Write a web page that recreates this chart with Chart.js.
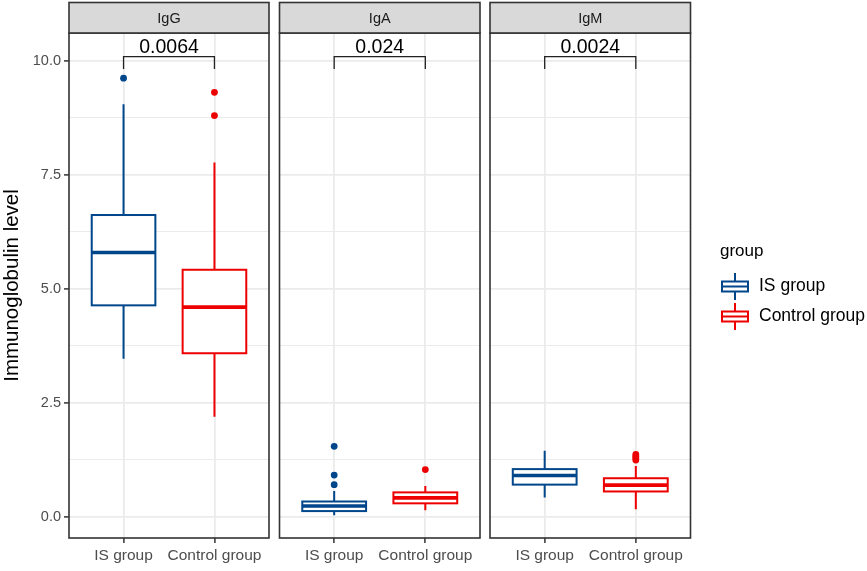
<!DOCTYPE html>
<html>
<head>
<meta charset="utf-8">
<script src="https://cdn.jsdelivr.net/npm/chart.js@4.4.1/dist/chart.umd.min.js"></script>
<style>
  html, body { margin: 0; padding: 0; background: #fff; }
  #wrap { position: relative; width: 867px; height: 571px; overflow: hidden; }
  #wrap canvas { position: absolute; left: 0; top: 0; }
</style>
</head>
<body>
<div id="wrap">
  <canvas id="p0" width="867" height="571"></canvas>
  <canvas id="p1" width="867" height="571"></canvas>
  <canvas id="p2" width="867" height="571"></canvas>
</div>
<script>
// ---- data ----
const panelNames = ["IgG", "IgA", "IgM"];
const groupNames = ["IS group", "Control group"];
const pValues = ["0.0064", "0.024", "0.0024"];
const yTickValues = [0, 1.25, 2.5, 3.75, 5, 6.25, 7.5, 8.75, 10];

// IS group: whisker ends, quartiles, median per panel
const isLower = [3.47, 0.04, 0.43];
const isQ1 = [4.64, 0.13, 0.71];
const isMedian = [5.80, 0.24, 0.91];
const isQ3 = [6.62, 0.34, 1.05];
const isUpper = [9.05, 0.57, 1.45];
const isOutliers = [[9.62], [1.55, 0.92, 0.71], []];

// Control group
const ctrlLower = [2.20, 0.15, 0.17];
const ctrlQ1 = [3.59, 0.30, 0.56];
const ctrlMedian = [4.60, 0.42, 0.70];
const ctrlQ3 = [5.42, 0.54, 0.85];
const ctrlUpper = [7.77, 0.68, 1.12];
const ctrlOutliers = [[9.31, 8.80], [1.04], [1.37, 1.33, 1.29, 1.25]];

// significance bracket level (same in every panel)
const bracketTop = 10.09;
const bracketFoot = 9.82;

// ---- layout / style ----
const W = 867, H = 571;
const panelLeft = [69, 279.5, 490];
const panelRight = [269, 480, 690.5];
const panelTop = 33, panelBottom = 538, stripTop = 2.5;
const colors = ["#00468B", "#ED0000"];
const BOX_HALF = 0.35;
const FONT = "'Liberation Sans', Arial, Helvetica, sans-serif";

Chart.defaults.font.family = FONT;

function drawText(ctx, txt, x, y, size, color, align, base) {
    ctx.save();
    ctx.font = size + "px " + FONT;
    ctx.fillStyle = color;
    ctx.textAlign = align || "center";
    ctx.textBaseline = base || "middle";
    ctx.fillText(txt, x, y);
    ctx.restore();
}

function drawBoxGlyph(ctx, cx, top, bot, low, high, half, color, lw) {
    ctx.save();
    ctx.strokeStyle = color;
    ctx.lineWidth = lw;
    ctx.beginPath();
    ctx.moveTo(cx, high); ctx.lineTo(cx, top);
    ctx.moveTo(cx, bot); ctx.lineTo(cx, low);
    ctx.stroke();
    ctx.fillStyle = "#fff";
    ctx.fillRect(cx - half, top, half * 2, bot - top);
    ctx.strokeRect(cx - half, top, half * 2, bot - top);
    ctx.restore();
}

function hLine(ctx, x1, x2, yy, color, lw) {
    ctx.save();
    ctx.strokeStyle = color;
    ctx.lineWidth = lw;
    ctx.beginPath();
    ctx.moveTo(x1, yy); ctx.lineTo(x2, yy);
    ctx.stroke();
    ctx.restore();
}

function boxplotPlugin(k) {
    return {
        id: "boxplot" + k,
        beforeDatasetsDraw(chart) {
            const { ctx, scales: { x, y } } = chart;
            const stats = [
                [isLower[k], isQ1[k], isMedian[k], isQ3[k], isUpper[k]],
                [ctrlLower[k], ctrlQ1[k], ctrlMedian[k], ctrlQ3[k], ctrlUpper[k]]
            ];
            stats.forEach((s, g) => {
                const cx = x.getPixelForValue(g + 1);
                const half = x.getPixelForValue(g + 1 + BOX_HALF) - cx;
                drawBoxGlyph(ctx, cx, y.getPixelForValue(s[3]), y.getPixelForValue(s[1]),
                    y.getPixelForValue(s[0]), y.getPixelForValue(s[4]), half, colors[g], 2);
                hLine(ctx, cx - half, cx + half, y.getPixelForValue(s[2]), colors[g], 3.6);
            });
        },
        afterDraw(chart) {
            const { ctx, chartArea: a, scales: { x, y } } = chart;
            ctx.save();
            // panel border
            ctx.strokeStyle = "#333";
            ctx.lineWidth = 1.6;
            ctx.strokeRect(a.left, a.top, a.right - a.left, a.bottom - a.top);
            // strip
            ctx.fillStyle = "#d9d9d9";
            ctx.fillRect(a.left, stripTop, a.right - a.left, a.top - stripTop);
            ctx.strokeRect(a.left, stripTop, a.right - a.left, a.top - stripTop);
            ctx.restore();
            drawText(ctx, panelNames[k], (a.left + a.right) / 2, (stripTop + a.top) / 2 + 1, 14.5, "#1a1a1a");

            // bracket + p value
            const x1 = x.getPixelForValue(1), x2 = x.getPixelForValue(2);
            const yt = y.getPixelForValue(bracketTop), yf = y.getPixelForValue(bracketFoot);
            ctx.save();
            ctx.strokeStyle = "#222";
            ctx.lineWidth = 1.3;
            ctx.beginPath();
            ctx.moveTo(x1, yf); ctx.lineTo(x1, yt); ctx.lineTo(x2, yt); ctx.lineTo(x2, yf);
            ctx.stroke();
            ctx.restore();
            drawText(ctx, pValues[k], x.getPixelForValue(1.5), yt - 4, 19.5, "#000", "center", "alphabetic");

            if (k === 2) {
                // legend
                drawText(ctx, "group", 720, 251, 17, "#000", "left");
                groupNames.forEach((name, g) => {
                    const cy = 286.5 + g * 30;
                    drawBoxGlyph(ctx, 735, cy - 5, cy + 5, cy + 13.5, cy - 13.5, 13, colors[g], 2);
                    hLine(ctx, 722, 748, cy, colors[g], 2);
                    drawText(ctx, name, 759, cy, 17.5, "#000", "left");
                });
            }
        }
    };
}

function makePanel(k) {
    const first = k === 0;
    const yWidth = first ? panelLeft[0] : 0;
    new Chart(document.getElementById("p" + k), {
        type: "scatter",
        data: {
            datasets: [
                {
                    label: groupNames[0],
                    data: isOutliers[k].map(v => ({ x: 1, y: v })),
                    backgroundColor: colors[0],
                    pointRadius: 3.4,
                    pointBorderWidth: 0
                },
                {
                    label: groupNames[1],
                    data: ctrlOutliers[k].map(v => ({ x: 2, y: v })),
                    backgroundColor: colors[1],
                    pointRadius: 3.4,
                    pointBorderWidth: 0
                }
            ]
        },
        options: {
            responsive: false,
            animation: false,
            events: [],
            layout: {
                padding: { left: panelLeft[k] - yWidth, right: W - panelRight[k], top: panelTop, bottom: 0 }
            },
            plugins: { legend: { display: false }, tooltip: { enabled: false } },
            scales: {
                x: {
                    type: "linear",
                    min: 0.4,
                    max: 2.6,
                    afterBuildTicks: s => { s.ticks = [{ value: 1 }, { value: 2 }]; },
                    afterFit: s => { s.height = H - panelBottom; },
                    border: { display: false },
                    grid: { color: "#ebebeb", lineWidth: 1.8, tickColor: "#333", tickWidth: 1.5, tickLength: 5 },
                    ticks: {
                        autoSkip: false,
                        maxRotation: 0,
                        padding: 3,
                        color: "#4d4d4d",
                        font: { size: 15.5 },
                        callback: v => groupNames[v - 1]
                    }
                },
                y: {
                    type: "linear",
                    min: -0.46,
                    max: 10.61,
                    afterBuildTicks: s => { s.ticks = yTickValues.map(v => ({ value: v })); },
                    afterFit: s => { s.width = yWidth; },
                    border: { display: false },
                    title: {
                        display: first,
                        text: "Immunoglobulin level",
                        color: "#000",
                        font: { size: 20.5 },
                        padding: { top: 0, bottom: 0 }
                    },
                    grid: {
                        color: "#ebebeb",
                        lineWidth: c => (c.tick && c.tick.value % 2.5 === 0 ? 1.8 : 1),
                        drawTicks: first,
                        tickLength: 5,
                        tickWidth: 1.5,
                        tickColor: c => (c.tick && c.tick.value % 2.5 === 0 ? "#333" : "rgba(0,0,0,0)")
                    },
                    ticks: {
                        display: first,
                        padding: 3,
                        color: "#4d4d4d",
                        font: { size: 14.5 },
                        callback: v => (v % 2.5 === 0 ? v.toFixed(1) : "")
                    }
                }
            }
        },
        plugins: [boxplotPlugin(k)]
    });
}

makePanel(0);
makePanel(1);
makePanel(2);
</script>
</body>
</html>
